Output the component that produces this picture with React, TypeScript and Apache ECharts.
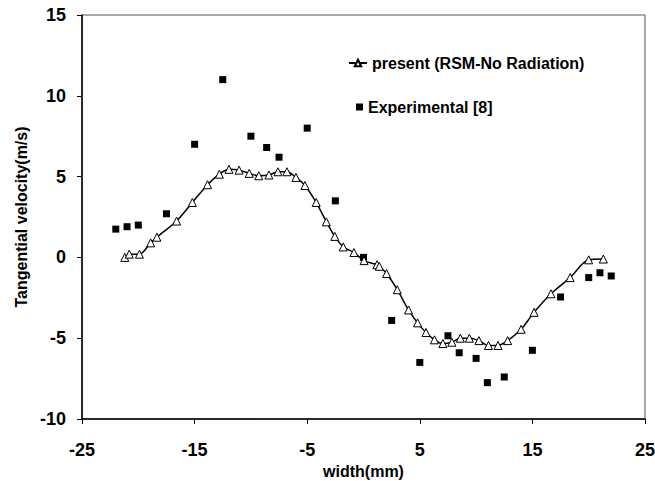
import React, { useEffect, useRef } from "react";
import * as echarts from "echarts";

const modelX = [
  -21.2, -20.8, -19.9, -18.9, -18.35, -16.6, -15.2, -13.85, -12.8, -11.95,
  -11.05, -10.15, -9.3, -8.4, -7.6, -6.8, -6.0, -5.2, -4.2, -3.3, -2.55, -1.8,
  -0.85, 0.05, 1.2, 1.4, 2.05, 3.0, 4.0, 4.8, 5.55, 6.3, 7.05, 7.85, 8.6, 9.4,
  10.25, 11.1, 11.95, 12.8, 14.0, 15.15, 16.65, 18.35, 20.0, 21.3,
];
const modelY = [
  0.0, 0.2, 0.2, 0.9, 1.25, 2.25, 3.4, 4.5, 5.15, 5.45, 5.4, 5.2, 5.05, 5.1,
  5.3, 5.3, 4.95, 4.45, 3.4, 2.2, 1.3, 0.65, 0.3, -0.2, -0.45, -0.55, -1.0,
  -2.0, -3.25, -4.05, -4.65, -5.1, -5.33, -5.25, -5.0, -5.0, -5.15, -5.45,
  -5.45, -5.15, -4.45, -3.4, -2.25, -1.25, -0.15, -0.1,
];
const expX = [
  -22, -21, -20, -17.5, -15, -12.5, -10, -8.6, -7.5, -5, -2.5, 0, 2.5, 5, 7.5,
  8.5, 10, 11, 12.5, 15, 17.5, 20, 21, 22,
];
const expY = [
  1.75, 1.9, 2.0, 2.7, 7.0, 11.0, 7.5, 6.8, 6.2, 8.0, 3.5, 0.0, -3.9, -6.5,
  -4.85, -5.9, -6.25, -7.75, -7.4, -5.75, -2.45, -1.25, -0.95, -1.15,
];
const xTicks = { min: -25, max: 25, interval: 10 };
const yTicks = { min: -10, max: 15, interval: 5 };

const modelName = "present (RSM-No Radiation)";
const expName = "Experimental [8]";
const xName = "width(mm)";
const yName = "Tangential velocity(m/s)";

const FONT = "'Liberation Sans', Arial, Helvetica, sans-serif";

export default function App() {
  const ref = useRef<HTMLDivElement>(null);
  useEffect(() => {
    document.body.style.margin = "0";
    if (!ref.current) return;
    const chart = echarts.init(ref.current, null, { renderer: "svg" });
    const axisText = { color: "#000", fontWeight: "bold" as const, fontFamily: FONT };
    chart.setOption({
      animation: false,
      backgroundColor: "#fff",
      grid: {
        left: 82,
        right: 10,
        top: 15,
        bottom: 62,
        show: true,
        borderColor: "#555",
        borderWidth: 1,
        containLabel: false,
        outerBoundsMode: "none",
      },
      legend: [
        {
          data: [modelName],
          left: 348,
          top: 55,
          padding: 0,
          itemWidth: 18,
          itemHeight: 8,
          textStyle: { ...axisText, fontSize: 16 },
        },
        {
          data: [expName],
          left: 356,
          top: 99,
          padding: 0,
          itemWidth: 7,
          itemHeight: 7,
          textStyle: { ...axisText, fontSize: 16 },
        },
      ],
      xAxis: {
        type: "value",
        min: xTicks.min,
        max: xTicks.max,
        interval: xTicks.interval,
        name: xName,
        nameLocation: "middle",
        nameGap: 42,
        nameTextStyle: { ...axisText, fontSize: 16 },
        axisLine: { onZero: false, lineStyle: { color: "#000", width: 1.5 } },
        axisTick: { show: true, inside: false, length: 5, lineStyle: { color: "#000" } },
        axisLabel: { ...axisText, fontSize: 18, margin: 22 },
        splitLine: { show: false },
      },
      yAxis: {
        type: "value",
        min: yTicks.min,
        max: yTicks.max,
        interval: yTicks.interval,
        name: yName,
        nameLocation: "middle",
        nameGap: 53,
        nameTextStyle: { ...axisText, fontSize: 16 },
        axisLine: { onZero: false, lineStyle: { color: "#000", width: 1.5 } },
        axisTick: { show: true, inside: false, length: 5, lineStyle: { color: "#000" } },
        axisLabel: { ...axisText, fontSize: 18, margin: 16 },
        splitLine: { show: false },
      },
      series: [
        {
          name: modelName,
          type: "line",
          data: modelX.map((x, i) => [x, modelY[i]]),
          smooth: 0.3,
          symbol: "triangle",
          symbolSize: 8,
          showAllSymbol: true,
          lineStyle: { color: "#000", width: 1.5 },
          itemStyle: { color: "#fff", borderColor: "#000", borderWidth: 1 },
          z: 3,
        },
        {
          name: expName,
          type: "scatter",
          data: expX.map((x, i) => [x, expY[i]]),
          symbol: "rect",
          symbolSize: 7,
          itemStyle: { color: "#000", opacity: 1 },
          z: 2,
        },
      ],
    });
    return () => chart.dispose();
  }, []);
  return <div ref={ref} style={{ width: 655, height: 481 }} />;
}
